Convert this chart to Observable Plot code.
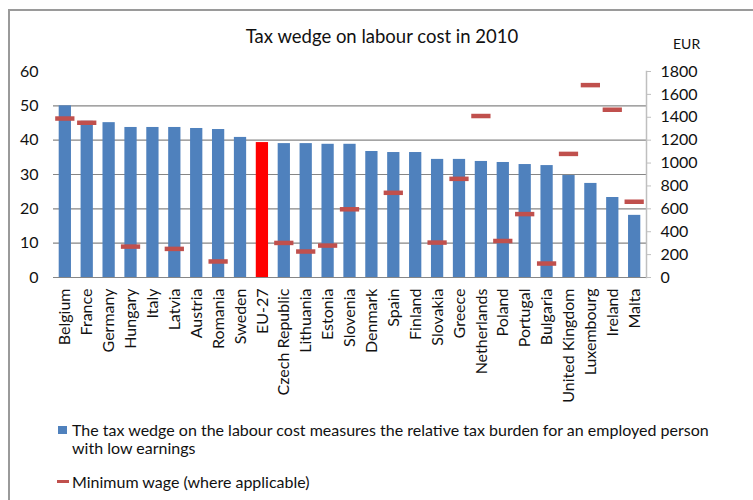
<!DOCTYPE html>
<html>
<head>
<meta charset="utf-8">
<script src="https://cdn.jsdelivr.net/npm/d3@7"></script>
<script src="https://cdn.jsdelivr.net/npm/@observablehq/plot@0.6"></script>
<style>
  html, body { margin: 0; padding: 0; background: #fff; }
  body { width: 753px; height: 500px; overflow: hidden; position: relative; font-family: Lato, "Open Sans", sans-serif; color: #111; }
  #frame { position: absolute; left: 8px; top: 9px; width: 900px; height: 700px; border: 2px solid #9a9a9a; box-sizing: border-box; }
  #title { position: absolute; left: 382px; top: 27px; transform: translateX(-50%); font-size: 18.5px; line-height: 18px; white-space: nowrap; }
  #unit { position: absolute; left: 673px; top: 37px; font-size: 14px; line-height: 14px; }
  #chart { position: absolute; left: 0; top: 52px; }
  .lg-text { position: absolute; left: 72px; font-size: 16px; line-height: 18px; white-space: nowrap; }
  #sw1 { position: absolute; left: 58px; top: 426px; width: 9px; height: 8px; background: #4f81bd; }
  #sw2 { position: absolute; left: 57px; top: 480px; width: 12px; height: 3px; background: #c0504d; }
</style>
</head>
<body>
<div id="frame"></div>
<div id="title">Tax wedge on labour cost in 2010</div>
<div id="unit">EUR</div>
<div id="chart"></div>
<div id="sw1"></div>
<div class="lg-text" style="top:421px">The tax wedge on the labour cost measures the relative tax burden for an employed person<br>with low earnings</div>
<div id="sw2"></div>
<div class="lg-text" style="top:473px">Minimum wage (where applicable)</div>
<script>
const countries = ["Belgium","France","Germany","Hungary","Italy","Latvia","Austria","Romania","Sweden","EU-27","Czech Republic","Lithuania","Estonia","Slovenia","Denmark","Spain","Finland","Slovakia","Greece","Netherlands","Poland","Portugal","Bulgaria","United Kingdom","Luxembourg","Ireland","Malta"];
const taxWedge = [50.0,45.5,45.1,43.7,43.7,43.7,43.4,43.1,40.8,39.3,39.0,39.0,38.8,38.8,36.7,36.4,36.4,34.4,34.4,33.8,33.5,32.9,32.6,29.7,27.4,23.3,18.1];
const minWage = [1389,1352,null,270,null,250,null,140,null,null,302,227,279,596,null,740,null,305,862,1411,319,554,122,1080,1681,1466,662];
const leftTicks = [0,10,20,30,40,50,60];
const gridValues = [0,10,20,30,40,50];
const eurTicks = [0,200,400,600,800,1000,1200,1400,1600,1800];
const eurPerUnit = 1800 / 60;

const data = countries.map((c, i) => ({country: c, wedge: taxWedge[i], wage: minWage[i]}));

const chart = Plot.plot({
  width: 753,
  height: 360,
  marginTop: 19,
  marginBottom: 135,
  marginLeft: 53,
  marginRight: 107,
  style: {fontFamily: "Lato, 'Open Sans', sans-serif", fontSize: "16px", color: "#111", background: "transparent"},
  x: {domain: countries, paddingInner: 0.44, paddingOuter: 0.26, round: false},
  y: {domain: [0, 60]},
  marks: [
    Plot.ruleY(gridValues, {stroke: "#868686", strokeWidth: 1.2}),
    Plot.barY(data.filter(d => d.country !== "EU-27"), {x: "country", y: "wedge", fill: "#4f81bd"}),
    Plot.barY(data.filter(d => d.country === "EU-27"), {x: "country", y: "wedge", fill: "#ff0000"}),
    Plot.tickY(data.filter(d => d.wage != null), {x: "country", y: d => d.wage / eurPerUnit, stroke: "#c0504d", strokeWidth: 4.5, insetLeft: -3.5, insetRight: -3.5}),
    Plot.frame({anchor: "right", stroke: "#bfbfbf", strokeWidth: 1.5}),
    Plot.axisY(leftTicks, {anchor: "left", tickSize: 0, tickPadding: 15, fontSize: 16, label: null}),
    Plot.axisY(eurTicks.map(v => v / eurPerUnit), {anchor: "right", tickSize: 4, tickPadding: 10, stroke: "#bfbfbf", tickFormat: d => String(Math.round(d * eurPerUnit)), fontSize: 16, label: null}),
    Plot.axisX({tickRotate: -90, tickSize: 0, tickPadding: 11, fontSize: 16, label: null})
  ]
});
document.getElementById("chart").appendChild(chart);
</script>
</body>
</html>
